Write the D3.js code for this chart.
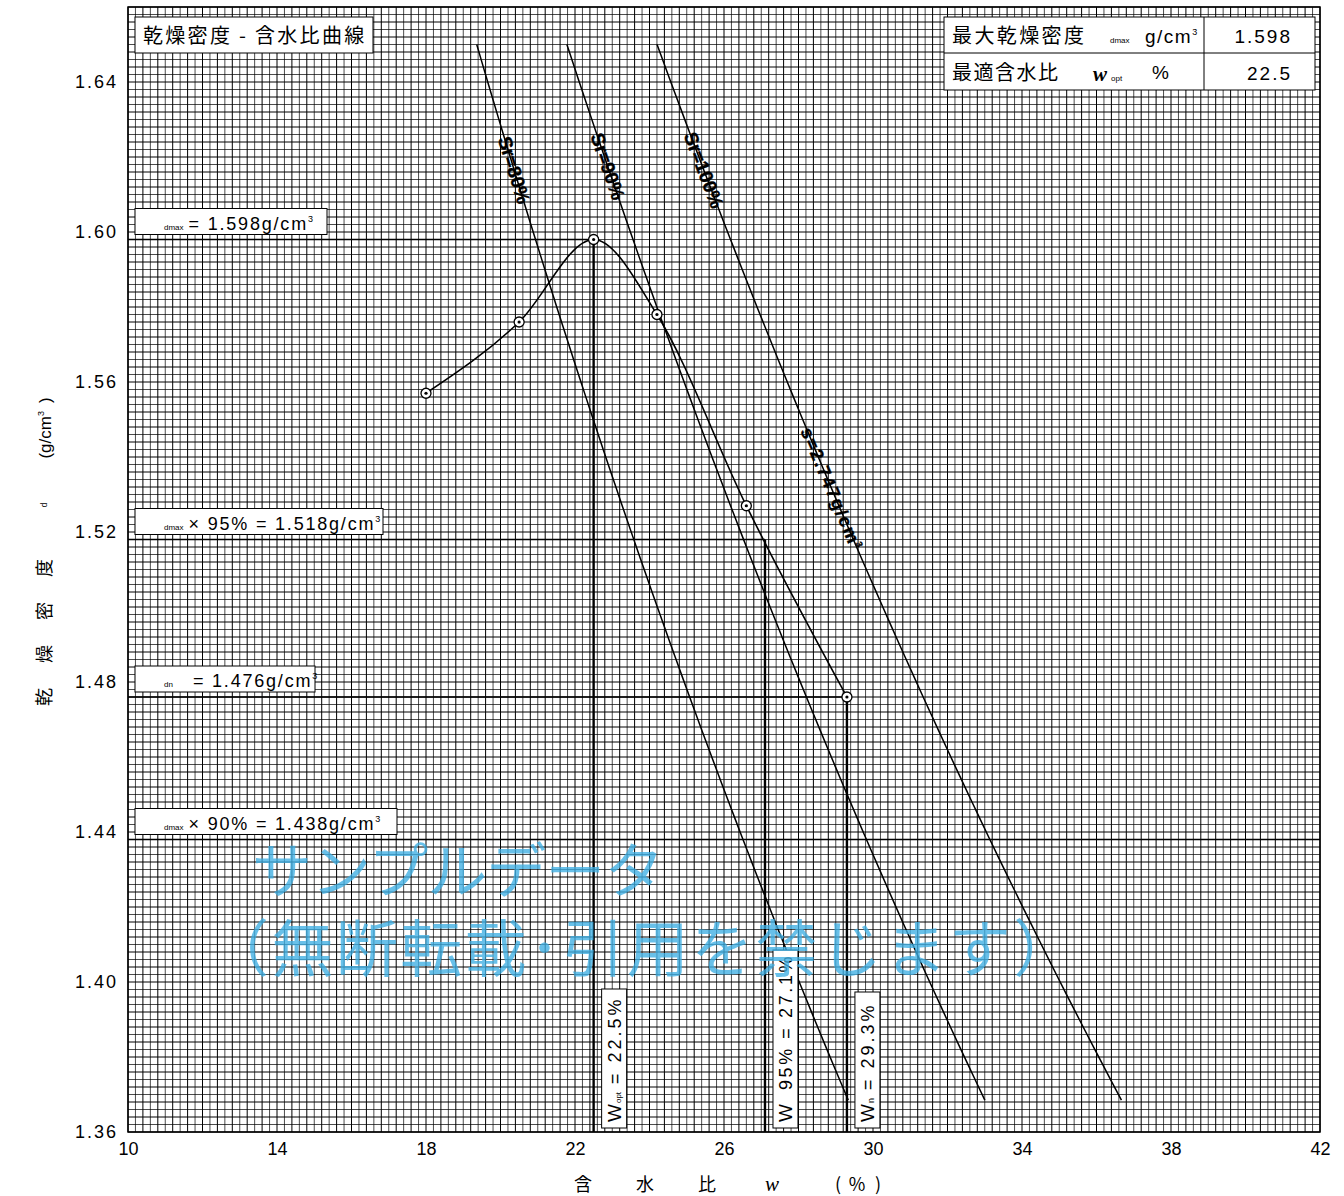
<!DOCTYPE html>
<html>
<head>
<meta charset="utf-8">
<script src="https://cdn.jsdelivr.net/npm/d3@7"></script>
<style>
  body { margin: 0; background: #fff; }
  svg { display: block; }
</style>
</head>
<body>
<svg id="chart" width="1344" height="1196"></svg>
<script>
// ---- data ----
const xTicks = [10, 14, 18, 22, 26, 30, 34, 38, 42];
const yTicks = [1.36, 1.40, 1.44, 1.48, 1.52, 1.56, 1.60, 1.64];
const waterContent = [18.0, 20.5, 22.5, 24.2, 26.6, 29.3];
const dryDensity   = [1.557, 1.576, 1.598, 1.578, 1.527, 1.476];
const saturationRatios = [80, 90, 100];
const soilParticleDensity = 2.747;
const saturationDensityRange = [1.65, 1.3685];
const maxDryDensity = 1.598;
const optimumWater = 22.5;
const density95 = 1.518;
const water95 = 27.1;
const naturalDensity = 1.476;
const naturalWater = 29.3;
const density90 = 1.438;

// ---- layout ----
const plotLeft = 128, plotRight = 1320, plotTop = 7, plotBottom = 1132;
const x = d3.scaleLinear().domain([10, 42]).range([plotLeft, plotRight]);
const y = d3.scaleLinear().domain([1.36, 1.66]).range([plotBottom, plotTop]);

const SANS = "'Liberation Sans','Noto Sans CJK JP',sans-serif";
const CJK = "'Noto Sans CJK JP',sans-serif";
const svg = d3.select("#chart");

// ---- fine grid (0.2 % by 0.002 g/cm3) ----
const grid = svg.append("g").attr("stroke", "#000").attr("stroke-width", 1);
d3.range(0, 161).forEach(i => {
  const gx = x(10 + i * 0.2);
  grid.append("line").attr("x1", gx).attr("x2", gx).attr("y1", plotTop).attr("y2", plotBottom)
    .attr("stroke-opacity", i % 2 ? 0.7 : 1);
});
d3.range(0, 151).forEach(i => {
  const gy = y(1.36 + i * 0.002);
  grid.append("line").attr("x1", plotLeft).attr("x2", plotRight).attr("y1", gy).attr("y2", gy)
    .attr("stroke-opacity", i % 2 ? 0.7 : 1);
});
svg.append("rect").attr("x", plotLeft).attr("y", plotTop)
  .attr("width", plotRight - plotLeft).attr("height", plotBottom - plotTop)
  .attr("fill", "none").attr("stroke", "#000").attr("stroke-width", 1.5);

// ---- axes ----
const xAxis = d3.axisBottom(x).tickValues(xTicks).tickSize(0).tickPadding(10).tickFormat(d3.format("d"));
const gX = svg.append("g").attr("transform", `translate(0,${plotBottom})`).call(xAxis);
gX.select(".domain").remove();
gX.selectAll("text").attr("font-family", SANS).attr("font-size", 18).attr("fill", "#000");

const yAxis = d3.axisLeft(y).tickValues(yTicks).tickSize(0).tickPadding(10).tickFormat(d3.format(".2f"));
const gY = svg.append("g").attr("transform", `translate(${plotLeft},0)`).call(yAxis);
gY.select(".domain").remove();
gY.selectAll("text").attr("font-family", SANS).attr("font-size", 18).attr("fill", "#000")
  .attr("letter-spacing", 2);

// ---- axis titles ----
const xTitle = [["含", 583], ["水", 645], ["比", 707], ["w", 772], ["(", 838], ["%", 857], [")", 878]];
xTitle.forEach(([t, px]) => {
  svg.append("text").attr("x", px).attr("y", 1191).attr("text-anchor", "middle")
    .attr("font-family", t === "w" ? "'Liberation Serif',serif" : CJK)
    .attr("font-style", t === "w" ? "italic" : "normal")
    .attr("font-size", t === "w" ? 21 : 18).attr("fill", "#000").text(t);
});
const yTitle = [["乾", 697, 18], ["燥", 654, 18], ["密", 611, 18], ["度", 568, 18], ["d", 505, 8]];
yTitle.forEach(([t, py, fs]) => {
  svg.append("text").attr("transform", `translate(${fs > 10 ? 51 : 47},${py}) rotate(-90)`)
    .attr("text-anchor", "middle").attr("font-family", CJK).attr("font-size", fs).attr("fill", "#000").text(t);
});
const yUnit = svg.append("text").attr("transform", `translate(51,428) rotate(-90)`)
  .attr("text-anchor", "middle").attr("font-family", SANS).attr("font-size", 17).attr("fill", "#000");
yUnit.append("tspan").text("(g/cm");
yUnit.append("tspan").attr("font-size", 9).attr("dy", -7).text("3");
yUnit.append("tspan").attr("dy", 7).attr("dx", 8).text(")");

// ---- saturation lines (family for the stated particle density) ----
const satDensity = d3.range(0, 61).map(i =>
  saturationDensityRange[0] + (saturationDensityRange[1] - saturationDensityRange[0]) * i / 60);
const waterAt = (sr, d) => (soilParticleDensity / d - 1) / soilParticleDensity * sr;
const satLine = d3.line().x(d => x(d[0])).y(d => y(d[1]));
saturationRatios.forEach(sr => {
  svg.append("path").datum(satDensity.map(d => [waterAt(sr, d), d]))
    .attr("d", satLine).attr("fill", "none").attr("stroke", "#000").attr("stroke-width", 1.5);
});
function lineLabel(sr, d, fs, ls) {
  const px = x(waterAt(sr, d)), py = y(d);
  const px2 = x(waterAt(sr, d - 0.005)), py2 = y(d - 0.005);
  const ang = Math.atan2(py2 - py, px2 - px) * 180 / Math.PI;
  return svg.append("text").attr("transform", `translate(${px},${py}) rotate(${ang})`)
    .attr("text-anchor", "middle").attr("dy", "0.35em")
    .attr("font-family", SANS).attr("font-weight", "bold").attr("font-size", fs)
    .attr("letter-spacing", ls).attr("fill", "#000").attr("stroke", "#000").attr("stroke-width", 0.4);
}
lineLabel(80, 1.6165, 19, 0).text("Sr=80%");
lineLabel(90, 1.6175, 19, 0).text("Sr=90%");
lineLabel(100, 1.6165, 19, 0).text("Sr=100%");
const rs = lineLabel(100, 1.5315, 18, 1.6);
rs.append("tspan").text("s=2.747g/cm");
rs.append("tspan").attr("font-size", 9).attr("dy", -7).text("3");

// ---- reference lines ----
const ref = svg.append("g").attr("stroke", "#000").attr("stroke-width", 1.6);
ref.append("line").attr("x1", plotLeft).attr("x2", x(optimumWater)).attr("y1", y(maxDryDensity)).attr("y2", y(maxDryDensity));
ref.append("line").attr("x1", x(optimumWater)).attr("x2", x(optimumWater)).attr("y1", y(maxDryDensity)).attr("y2", plotBottom).attr("stroke-width", 2.4);
ref.append("line").attr("x1", plotLeft).attr("x2", x(water95)).attr("y1", y(density95)).attr("y2", y(density95));
ref.append("line").attr("x1", x(water95)).attr("x2", x(water95)).attr("y1", y(density95)).attr("y2", plotBottom).attr("stroke-width", 2.4);
ref.append("line").attr("x1", plotLeft).attr("x2", x(naturalWater)).attr("y1", y(naturalDensity)).attr("y2", y(naturalDensity));
ref.append("line").attr("x1", x(naturalWater)).attr("x2", x(naturalWater)).attr("y1", y(naturalDensity)).attr("y2", plotBottom).attr("stroke-width", 2.4);
ref.append("line").attr("x1", plotLeft).attr("x2", plotRight).attr("y1", y(density90)).attr("y2", y(density90));

// ---- compaction curve ----
const pts = waterContent.map((w, i) => [w, dryDensity[i]]);
svg.append("path").datum(pts)
  .attr("d", d3.line().x(d => x(d[0])).y(d => y(d[1])).curve(d3.curveMonotoneX))
  .attr("fill", "none").attr("stroke", "#000").attr("stroke-width", 1.6);
const marks = svg.append("g");
pts.forEach(p => {
  marks.append("circle").attr("cx", x(p[0])).attr("cy", y(p[1])).attr("r", 5)
    .attr("fill", "#fff").attr("stroke", "#000").attr("stroke-width", 1.3);
  marks.append("circle").attr("cx", x(p[0])).attr("cy", y(p[1])).attr("r", 1.6).attr("fill", "#000");
});

// ---- horizontal value boxes ----
function hBox(value, width, sub, gap, rest) {
  const by = y(value) - 31;
  svg.append("rect").attr("x", 135).attr("y", by).attr("width", width).attr("height", 26)
    .attr("fill", "#fff").attr("stroke", "#000").attr("stroke-width", 1);
  const t = svg.append("text").attr("x", 164).attr("y", by + 21).attr("font-family", SANS)
    .attr("fill", "#000");
  t.append("tspan").attr("font-size", 8).text(sub);
  t.append("tspan").attr("font-size", 18).attr("letter-spacing", 1.8).attr("dx", gap).text(rest);
  t.append("tspan").attr("font-size", 9).attr("dy", -8).text("3");
}
hBox(maxDryDensity, 192, "dmax", 5, "= 1.598g/cm");
hBox(density95, 248, "dmax", 5, "× 95% = 1.518g/cm");
hBox(naturalDensity, 180, "dn", 20, "= 1.476g/cm");
hBox(density90, 262, "dmax", 5, "× 90% = 1.438g/cm");

// ---- vertical value boxes ----
function vBox(w, boxTop, parts) {
  const bx = x(w) + 8;
  svg.append("rect").attr("x", bx).attr("y", boxTop).attr("width", 25).attr("height", 1128 - boxTop)
    .attr("fill", "#fff").attr("stroke", "#000").attr("stroke-width", 1);
  const t = svg.append("text").attr("transform", `translate(${bx + 19},1122) rotate(-90)`)
    .attr("font-family", SANS).attr("fill", "#000");
  parts.forEach(([s, fs, ls, dx]) => t.append("tspan").attr("font-size", fs).attr("letter-spacing", ls)
    .attr("dx", dx).text(s));
}
vBox(optimumWater, 989, [["W", 19, 0, 0], ["opt", 8, 0, 1], ["= 22.5%", 18, 3, 8]]);
vBox(water95, 950, [["W", 19, 0, 0], ["95% = 27.1%", 18, 2.6, 14]]);
vBox(naturalWater, 992, [["W", 19, 0, 0], ["n", 9, 0, 1], ["= 29.3%", 18, 3, 8]]);

// ---- title box ----
svg.append("rect").attr("x", 135).attr("y", 17).attr("width", 238).attr("height", 36)
  .attr("fill", "#fff").attr("stroke", "#000").attr("stroke-width", 1);
svg.append("text").attr("x", 143).attr("y", 43).attr("font-family", CJK).attr("font-size", 20)
  .attr("letter-spacing", 2.3).attr("fill", "#000").text("乾燥密度 - 含水比曲線");

// ---- result table ----
const tbl = svg.append("g");
tbl.append("rect").attr("x", 944).attr("y", 17).attr("width", 371).attr("height", 73)
  .attr("fill", "#fff").attr("stroke", "#000").attr("stroke-width", 1);
tbl.append("line").attr("x1", 944).attr("x2", 1315).attr("y1", 53).attr("y2", 53).attr("stroke", "#000");
tbl.append("line").attr("x1", 1204).attr("x2", 1204).attr("y1", 17).attr("y2", 90).attr("stroke", "#000");
tbl.append("text").attr("x", 952).attr("y", 43).attr("font-family", CJK).attr("font-size", 20)
  .attr("letter-spacing", 2.4).attr("fill", "#000").text("最大乾燥密度");
tbl.append("text").attr("x", 1110).attr("y", 43).attr("font-family", SANS).attr("font-size", 8).attr("fill", "#000").text("dmax");
const gcm = tbl.append("text").attr("x", 1145).attr("y", 43).attr("font-family", SANS).attr("font-size", 19)
  .attr("letter-spacing", 1.5).attr("fill", "#000");
gcm.append("tspan").text("g/cm");
gcm.append("tspan").attr("font-size", 9).attr("dy", -8).text("3");
tbl.append("text").attr("x", 1292).attr("y", 43).attr("text-anchor", "end").attr("font-family", SANS)
  .attr("font-size", 19).attr("letter-spacing", 2).attr("fill", "#000").text("1.598");
tbl.append("text").attr("x", 952).attr("y", 80).attr("font-family", CJK).attr("font-size", 20)
  .attr("letter-spacing", 1.5).attr("fill", "#000").text("最適含水比");
tbl.append("text").attr("x", 1093).attr("y", 81).attr("font-family", "'Liberation Serif',serif")
  .attr("font-style", "italic").attr("font-weight", "bold").attr("font-size", 21).attr("fill", "#000").text("w");
tbl.append("text").attr("x", 1111).attr("y", 81).attr("font-family", SANS).attr("font-size", 8).attr("fill", "#000").text("opt");
tbl.append("text").attr("x", 1152).attr("y", 79).attr("font-family", SANS).attr("font-size", 19).attr("fill", "#000").text("%");
tbl.append("text").attr("x", 1292).attr("y", 80).attr("text-anchor", "end").attr("font-family", SANS)
  .attr("font-size", 19).attr("letter-spacing", 2).attr("fill", "#000").text("22.5");

// ---- sample-data notice ----
const note = svg.append("g").attr("fill", "#3daee3").attr("fill-opacity", 0.78)
  .attr("font-family", CJK);
note.append("text").attr("x", 252).attr("y", 893).attr("font-size", 60).attr("letter-spacing", -1)
  .text("サンプルデータ");
note.append("text").attr("x", 207).attr("y", 972).attr("font-size", 62).attr("letter-spacing", 2.4)
  .text("（無断転載･引用を禁じます）");
</script>
</body>
</html>
